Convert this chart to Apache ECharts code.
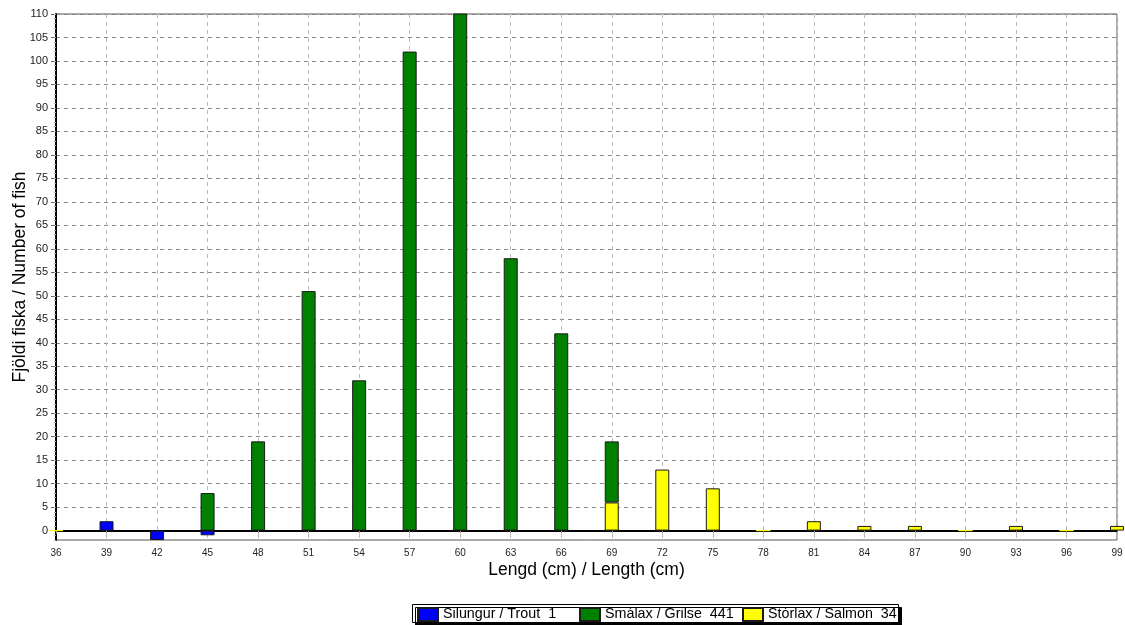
<!DOCTYPE html>
<html>
<head>
<meta charset="utf-8">
<script src="https://cdn.jsdelivr.net/npm/echarts@6/dist/echarts.min.js"></script>
<style>html,body{margin:0;padding:0;background:#fff;}#c{width:1125px;height:625px;}</style>
</head>
<body>
<div id="c"></div>
<script>
// lengths (cm)
const lengths = ['36', '39', '42', '45', '48', '51', '54', '57', '60', '63', '66', '69', '72', '75', '78', '81', '84', '87', '90', '93', '96', '99'];
// '-' = no bar
const trout  = ['-', 2, -2, -1, '-', '-', '-', '-', '-', '-', '-', '-', '-', '-', '-', '-', '-', '-', '-', '-', '-', '-'];
const salmon = [0, '-', '-', '-', '-', '-', '-', '-', '-', '-', '-', 6, 13, 9, 0, 2, 1, 1, 0, 1, 0, 1];
const grilse = ['-', '-', '-', 8, 19, 51, 32, 102, 116, 58, 42, 13, '-', '-', '-', '-', '-', '-', '-', '-', '-', '-'];
const seriesNames = ['Silungur / Trout', 'Smálax / Grilse', 'Stórlax / Salmon'];
const legendTotals = ['1', '441', '34'];
const yLabels = [0,5,10,15,20,25,30,35,40,45,50,55,60,65,70,75,80,85,90,95,100,105,110];

const font = 'Liberation Sans, Arial, sans-serif';
const edge = '#1a1a1a';
const toData = (vals, color) => vals.map(v => v === 0 ? {value: 0, itemStyle: {borderColor: color}} : v);
const legendLeft = [417, 579, 742];

const chart = echarts.init(document.getElementById('c'), null, {renderer: 'canvas'});
chart.setOption({
  animation: false,
  backgroundColor: '#fff',
  textStyle: {fontFamily: font},
  grid: {left: 56, right: 8, top: 14, bottom: 85, show: true, borderColor: '#555', borderWidth: 1,
         containLabel: false, outerBoundsMode: 'none'},
  graphic: [{
    type: 'rect', left: 412, top: 604, z: 0,
    shape: {width: 486, height: 18},
    style: {fill: '#fff', stroke: '#000', lineWidth: 1, shadowColor: '#000', shadowOffsetX: 3, shadowOffsetY: 3, shadowBlur: 0}
  }],
  legend: seriesNames.map((n, i) => ({
    left: legendLeft[i], top: 607, padding: 0, z: 10,
    itemWidth: 20, itemHeight: 13, itemGap: 0, icon: 'rect',
    textStyle: {fontSize: 14.3, color: '#000', fontFamily: font},
    formatter: name => name + '  ' + legendTotals[seriesNames.indexOf(name)],
    data: [n]
  })),
  xAxis: {
    type: 'category', data: lengths, boundaryGap: false,
    name: 'Lengd (cm) / Length (cm)', nameLocation: 'middle', nameGap: 21, nameMoveOverlap: false,
    nameTextStyle: {fontSize: 17.5, color: '#000', fontFamily: font},
    axisLine: {lineStyle: {color: '#000', width: 2}},
    axisTick: {show: true, length: 3, interval: 0, lineStyle: {color: '#999'}},
    axisLabel: {fontSize: 10, color: '#222', margin: 8, interval: 0},
    splitLine: {show: true, interval: 0, lineStyle: {color: '#bbb', type: [4, 4], width: 1}}
  },
  yAxis: [{
    type: 'value', min: -2, max: 110,
    name: 'Fjöldi fiska / Number of fish', nameLocation: 'middle', nameGap: 27, nameMoveOverlap: false,
    nameTextStyle: {fontSize: 17.5, color: '#000', fontFamily: font},
    axisLine: {show: true, lineStyle: {color: '#000', width: 2}},
    axisTick: {show: true, length: 5, customValues: yLabels, lineStyle: {color: '#666'}},
    axisLabel: {fontSize: 11, color: '#222', margin: 8, customValues: yLabels},
    splitLine: {show: true, lineStyle: {color: '#888', type: [4, 4], width: 1}}
  }, {
    type: 'value', min: -2, max: 110, interval: 1, position: 'left',
    axisLine: {show: false},
    axisTick: {show: true, length: 2, lineStyle: {color: '#aaa'}},
    axisLabel: {show: false},
    splitLine: {show: false}
  }],
  series: [
    {name: seriesNames[0], type: 'bar', stack: 's', barWidth: 14, clip: true,
     itemStyle: {color: '#0000ff', borderColor: edge, borderWidth: 1}, data: toData(trout, '#0000ff')},
    {name: seriesNames[2], type: 'bar', stack: 's', barWidth: 14, clip: true,
     itemStyle: {color: '#ffff00', borderColor: edge, borderWidth: 1}, data: toData(salmon, '#ffff00')},
    {name: seriesNames[1], type: 'bar', stack: 's', barWidth: 14, clip: true,
     itemStyle: {color: '#008000', borderColor: edge, borderWidth: 1}, data: toData(grilse, '#008000')}
  ]
});
</script>
</body>
</html>
